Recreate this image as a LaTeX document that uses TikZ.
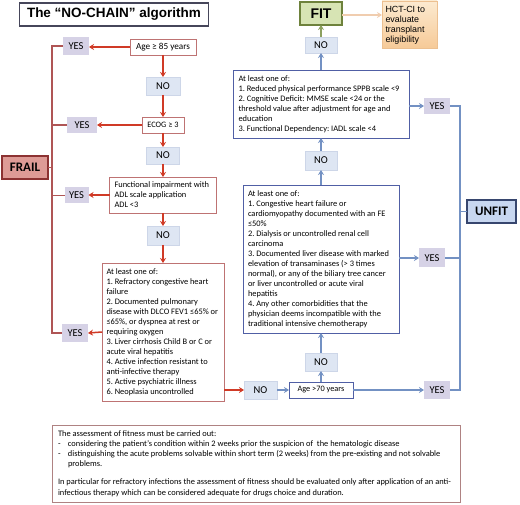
\documentclass[tikz,border=0pt]{standalone}
\usepackage{fontspec}
\setmainfont{Carlito}
\newfontfamily\arialf{Liberation Sans}
\usetikzlibrary{arrows.meta}
\frenchspacing
\definecolor{redarr}{RGB}{208,58,38}
\definecolor{redbd}{RGB}{190,115,115}
\definecolor{redline}{RGB}{175,85,85}
\definecolor{yesfill}{RGB}{214,210,230}
\definecolor{nofill}{RGB}{222,230,243}
\definecolor{nobd}{RGB}{205,214,232}
\definecolor{bluearr}{RGB}{115,145,195}
\definecolor{bluebd}{RGB}{80,95,165}
\definecolor{frailfill}{RGB}{222,155,150}
\definecolor{frailbd}{RGB}{140,50,50}
\definecolor{unfitfill}{RGB}{200,215,240}
\definecolor{unfitbd}{RGB}{55,70,110}
\definecolor{fitfill}{RGB}{215,228,180}
\definecolor{fitbd}{RGB}{110,130,60}
\definecolor{fitarr}{RGB}{140,160,95}
\definecolor{hctarr}{RGB}{240,205,175}
\definecolor{hcttop}{RGB}{252,234,208}
\definecolor{hctbot}{RGB}{246,202,152}
\definecolor{hctbd}{RGB}{236,192,145}
\definecolor{notebd}{RGB}{175,130,130}
\definecolor{titlebd}{RGB}{70,70,90}
\tikzset{
  base/.style={rectangle, inner sep=0pt, outer sep=0pt},
  yesbox/.style={base, fill=yesfill, font=\fontsize{10.5}{12}\selectfont},
  nobox/.style={base, fill=nofill, draw=nobd, line width=0.5pt, font=\fontsize{10.5}{12}\selectfont},
  redbox/.style={base, draw=redbd, line width=0.9pt, fill=white, font=\fontsize{8.3}{10}\selectfont},
  bluebox/.style={base, draw=bluebd, line width=0.9pt, fill=white, font=\fontsize{8.3}{10}\selectfont},
  boxtext/.style={base, anchor=west, align=left, font=\fontsize{8.4}{10}\selectfont},
  redarrow/.style={draw=redarr, line width=1.5pt, -{Stealth[length=5pt,width=6pt]}},
  bluearrow/.style={draw=bluearr, line width=1.7pt, -{Stealth[length=5pt,width=6pt]}},
  redconn/.style={draw=redline, line width=1.4pt},
  blueconn/.style={draw=bluearr, line width=1.7pt},
}
\begin{document}
\begin{tikzpicture}[x=1pt,y=-1pt]
\useasboundingbox (0,0) rectangle (520,505);
% title
\node[base, draw=titlebd, line width=1.3pt, minimum width=189pt, minimum height=23pt, font=\arialf\bfseries\fontsize{13.5}{15}\selectfont] (title) at (114,14.5) {The “NO-CHAIN” algorithm};
% left column
\node[redbox, minimum width=66pt, minimum height=16pt, font=\fontsize{9.2}{10}\selectfont] (age85) at (163,47) {Age ≥ 85 years};
\node[yesbox, minimum width=26pt, minimum height=18pt] (yes1) at (76,46) {YES};
\node[nobox, minimum width=34pt, minimum height=18pt] (no1) at (163,86) {NO};
\node[redbox, minimum width=42pt, minimum height=16pt] (ecog) at (163,125) {ECOG ≥ 3};
\node[yesbox, minimum width=30pt, minimum height=16pt] (yes2) at (82,125) {YES};
\node[base, fill=frailfill, draw=frailbd, line width=1.2pt, minimum width=46pt, minimum height=23pt, font=\bfseries\fontsize{13}{15}\selectfont] (frail) at (25,167.5) {FRAIL};
\node[nobox, minimum width=33pt, minimum height=17pt] (no2) at (163,155.5) {NO};
\node[redbox, minimum width=107pt, minimum height=36pt] (func) at (163,195) {};
\node[boxtext] (functext) at ([xshift=5pt]func.west) {Functional impairment with\\ADL scale application\\ADL <3};
\node[yesbox, minimum width=24pt, minimum height=16pt] (yes3) at (76.5,195.5) {YES};
\node[nobox, minimum width=32pt, minimum height=19pt] (no3) at (163,235.5) {NO};
\node[redbox, minimum width=122pt, minimum height=138pt] (bigl) at (163,332) {};
\node[boxtext] (bigltext) at ([xshift=4.5pt]bigl.west) {At least one of:\\1. Refractory congestive heart\\failure\\2. Documented pulmonary\\disease with DLCO FEV1 ≤65\% or\\≤65\%, or dyspnea at rest or\\requiring oxygen\\3. Liver cirrhosis Child B or C or\\acute viral hepatitis\\4. Active infection resistant to\\anti-infective therapy\\5. Active psychiatric illness\\6. Neoplasia uncontrolled};
\node[yesbox, minimum width=26pt, minimum height=18pt] (yes4) at (75,333) {YES};
% right column
\node[base, fill=fitfill, draw=fitbd, line width=1.1pt, minimum width=42pt, minimum height=23pt, font=\arialf\bfseries\fontsize{14}{16}\selectfont] (fit) at (321,13.5) {FIT};
\node[base, top color=hcttop, bottom color=hctbot, draw=hctbd, line width=0.6pt, minimum width=55pt, minimum height=47pt] (hct) at (409.5,24.5) {};
\node[base, anchor=west, align=left, font=\arialf\fontsize{8.9}{10}\selectfont] (hcttext) at ([xshift=3.5pt,yshift=-1pt]hct.west) {HCT-CI to\\evaluate\\transplant\\eligibility};
\node[nobox, minimum width=32pt, minimum height=16pt] (notop) at (321,45) {NO};
\node[bluebox, minimum width=176pt, minimum height=68pt] (box1) at (321,104) {};
\node[boxtext] (box1text) at ([xshift=5.5pt]box1.west) {At least one of:\\1. Reduced physical performance SPPB scale <9\\2. Cognitive Deficit: MMSE scale <24 or the\\threshold value after adjustment for age and\\education\\3. Functional Dependency: IADL scale <4};
\node[yesbox, minimum width=26pt, minimum height=16pt] (yesr1) at (437,106) {YES};
\node[nobox, minimum width=32pt, minimum height=19pt] (nomid) at (321,160.5) {NO};
\node[bluebox, minimum width=156pt, minimum height=148pt] (box2) at (321,259) {};
\node[boxtext] (box2text) at ([xshift=5pt]box2.west) {At least one of:\\1. Congestive heart failure or\\cardiomyopathy documented with an FE\\≤50\%\\2. Dialysis or uncontrolled renal cell\\carcinoma\\3. Documented liver disease with marked\\elevation of transaminases (> 3 times\\normal), or any of the biliary tree cancer\\or liver uncontrolled or acute viral\\hepatitis\\4. Any other comorbidities that the\\physician deems incompatible with the\\traditional intensive chemotherapy};
\node[yesbox, minimum width=26pt, minimum height=19pt] (yesr2) at (432,258) {YES};
\node[base, fill=unfitfill, draw=unfitbd, line width=1.2pt, minimum width=49pt, minimum height=23pt, font=\bfseries\fontsize{13}{15}\selectfont] (unfit) at (491.5,211.5) {UNFIT};
\node[nobox, minimum width=32pt, minimum height=18pt] (nomid2) at (321,362) {NO};
\node[nobox, minimum width=33pt, minimum height=18pt] (nobot) at (260.5,390) {NO};
\node[bluebox, minimum width=64pt, minimum height=16pt] (age70) at (321,390) {Age >70 years};
\node[yesbox, minimum width=26pt, minimum height=18pt] (yesb) at (437,390) {YES};
% note
\node[base, draw=notebd, line width=0.9pt, fill=white, minimum width=408pt, minimum height=77pt] (note) at (256,463.5) {};
\node[base, anchor=west, align=left, font=\fontsize{8.4}{10.2}\selectfont] (notetext) at ([xshift=6pt]note.west) {The assessment of fitness must be carried out:\\
\makebox[10pt][l]{-}considering the patient’s condition within 2 weeks prior the suspicion of \ the hematologic disease\\
\makebox[10pt][l]{-}distinguishing the acute problems solvable within short term (2 weeks) from the pre-existing and not solvable\\
\hspace*{10pt}problems.\\[8pt]
In particular for refractory infections the assessment of fitness should be evaluated only after application of an anti-\\
infectious therapy which can be considered adequate for drugs choice and duration.};
% coordinates for rails
\coordinate (lt) at (52,0);
\coordinate (rt) at (460,0);
% red arrows
\draw[redarrow] (age85.west) -- (age85.west -| yes1.east);
\draw[redarrow] (age85.south) -- (no1.north);
\draw[redarrow] (no1.south) -- (ecog.north);
\draw[redarrow] (ecog.west) -- (yes2.east);
\draw[redarrow] (ecog.south) -- (no2.north);
\draw[redarrow] (no2.south) -- (func.north);
\draw[redarrow] (func.west) -- (func.west -| yes3.east);
\draw[redarrow] (func.south) -- (no3.north);
\draw[redarrow] (no3.south) -- (bigl.north);
\draw[redarrow] (bigl.west) -- (yes4.east);
\draw[redarrow] (nobot.west -| bigl.east) -- (nobot.west);
% left rail
\draw[redconn] (yes1.west) -- (yes1.west -| lt) -- (yes4.west -| lt) -- (yes4.west);
\draw[redconn] (yes2.west) -- (yes2.west -| lt);
\draw[redconn] (yes3.west) -- (yes3.west -| lt);
\draw[redconn] (frail.east) -- (frail.east -| lt);
% blue arrows
\draw[bluearrow] (nobot.east) -- (age70.west);
\draw[bluearrow] (age70.east) -- (yesb.west);
\draw[bluearrow] (age70.north) -- (nomid2.south);
\draw[bluearrow] (nomid2.north) -- (box2.south);
\draw[bluearrow] (box2.east |- yesr2.west) -- (yesr2.west);
\draw[bluearrow] (box2.north) -- (nomid.south);
\draw[bluearrow] (nomid.north) -- (box1.south);
\draw[bluearrow] (box1.east |- yesr1.west) -- (yesr1.west);
\draw[bluearrow] (box1.north) -- (notop.south);
% right rail
\draw[blueconn] (yesr1.east) -- (yesr1.east -| rt) -- (yesb.east -| rt) -- (yesb.east);
\draw[blueconn] (yesr2.east) -- (yesr2.east -| rt);
\draw[blueconn] (unfit.west) -- (unfit.west -| rt);
% fit arrows
\draw[draw=fitarr, line width=1.6pt, -{Stealth[length=5pt,width=6pt]}] (notop.north) -- (fit.south);
\draw[draw=hctarr, line width=1.8pt, -{Stealth[length=5pt,width=6pt]}] (fit.east |- 0,15) -- (hct.west |- 0,15);
\end{tikzpicture}
\end{document}
